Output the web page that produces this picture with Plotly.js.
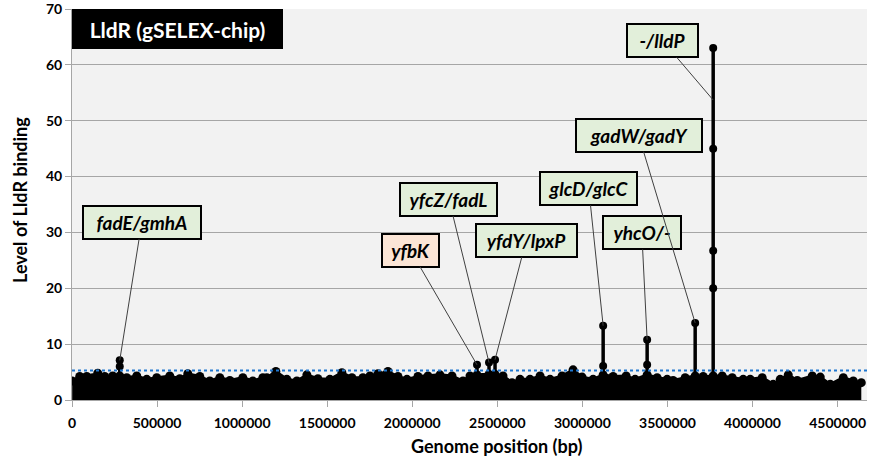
<!DOCTYPE html>
<html>
<head>
<meta charset="utf-8">
<script src="https://cdn.plot.ly/plotly-3.0.1.min.js"></script>
<style>html,body{margin:0;padding:0;background:#fff;}#chart{width:869px;height:472px;}</style>
</head>
<body>
<div id="chart"></div>
<script>
// Background binding profile (upper envelope)
const bgPos = [1000,45300,86500,121800,151200,192400,239400,280600,321800,380600,439400,498200,574700,633500,680600,751200,810000,868800,927600,1004100,1062900,1121800,1145300,1198200,1262900,1321700,1380600,1445300,1515900,1586500,1645300,1710000,1751200,1798200,1857000,1915900,1968800,2033500,2092300,2162900,2233500,2298200,2339400,2380600,2451200,2486500,2533500,2586500,2633500,2692300,2751200,2810000,2880600,2945300,2998200,3063000,3122000,3180600,3257100,3310000,3380600,3439400,3498200,3533500,3604100,3662900,3710000,3768800,3821800,3880600,3945300,3986500,4057100,4121800,4162900,4210000,4262900,4351200,4398200,4457100,4533500,4592300,4639400];
const bgVal = [3.4,4.2,4.2,4.0,4.8,4.2,4.3,4.3,4.0,4.3,3.7,4.0,4.3,3.8,4.7,4.2,3.4,4.0,3.5,4.0,3.4,4.0,4.0,5.1,3.7,3.4,4.5,3.8,3.7,4.9,4.0,4.0,4.3,4.7,5.1,4.2,3.7,4.2,4.3,4.5,4.3,3.4,4.3,4.5,4.6,4.6,4.3,3.1,3.7,3.7,4.3,3.7,4.3,5.4,4.1,3.7,4.5,4.2,4.3,3.7,4.5,4.0,3.7,3.5,4.0,4.3,4.2,4.3,4.3,4.0,3.7,3.7,4.0,2.8,3.7,4.5,3.5,4.3,4.1,2.8,4.0,3.4,3.1];

// Peaks: genome position and the measured levels at that position
const peakNames = ['fadE/gmhA','yfbK','yfcZ/fadL','yfdY/lpxP','glcD/glcC','yhcO/-','gadW/gadY','-/lldP'];
const peakPos = [280600,2380600,2451200,2486500,3122000,3380600,3662900,3768800];
const peakLevels = [[6.0,7.1],[6.3],[6.7],[7.2],[6.1,13.3],[6.3,10.8],[13.8],[20.0,26.7,45.0,63.0]];
const peakPointer = [7.1,6.3,6.7,7.2,13.3,10.8,13.8,53.7];
const threshold = 5.3;

// Label box placement (x in bp, y in binding level) and box size
const labelX = [410000,1989400,2215900,2668800,3037600,3349400,3330600,3471800];
const labelY = [31.8,26.8,35.9,28.5,37.8,29.9,47.4,64.3];
const labelW = [116,55,95,99,95,76,124,69];
const labelFill = ['#e2efda','#fbe5d6','#e2efda','#e2efda','#e2efda','#e2efda','#e2efda','#e2efda'];

const xTicks = [0,500000,1000000,1500000,2000000,2500000,3000000,3500000,4000000,4500000];
const yTicks = [0,10,20,30,40,50,60,70];

const FONT = 'Lato, "Open Sans", sans-serif';

// stems for peaks
const stemX = [], stemY = [];
peakPos.forEach((p,i)=>{
  stemX.push(p); stemY.push(1);
  peakLevels[i].forEach(v=>{stemX.push(p); stemY.push(v);});
  stemX.push(null); stemY.push(null);
});

const traces = [
  {x:bgPos, y:bgVal, type:'scatter', mode:'lines+markers', fill:'tozeroy', fillcolor:'#000',
   line:{color:'#000', width:3}, marker:{color:'#000', size:9}, hoverinfo:'skip', showlegend:false},
  {x:stemX, y:stemY, type:'scatter', mode:'lines+markers', connectgaps:false,
   line:{color:'#000', width:3.5}, marker:{color:'#000', size:8}, hoverinfo:'skip', showlegend:false}
];

const annotations = peakNames.map((n,i)=>({
  x:peakPos[i], y:peakPointer[i], xref:'x', yref:'y',
  ax:labelX[i], ay:labelY[i], axref:'x', ayref:'y',
  text:n, showarrow:true, arrowhead:0, arrowwidth:1, arrowcolor:'#404040', standoff:0,
  font:{family:FONT, size:19, color:'#000', weight:'bold', style:'italic'},
  bgcolor:labelFill[i], bordercolor:'#000', borderwidth:2, borderpad:0,
  width:labelW[i], height:31, align:'center', valign:'middle'
}));

annotations.push({
  xref:'paper', yref:'paper', x:0, y:1, xanchor:'left', yanchor:'top',
  text:'LldR (gSELEX-chip)', showarrow:false, bgcolor:'#000',
  font:{family:FONT, size:21, color:'#fff', weight:'bold'},
  width:211, height:40, borderpad:0, borderwidth:0, align:'center', valign:'middle'
});
annotations.push({
  xref:'paper', yref:'paper', x:(496-72)/795, y:-(446-400)/391, xanchor:'center', yanchor:'middle',
  text:'Genome position (bp)', showarrow:false,
  font:{family:FONT, size:18, color:'#000', weight:'bold'}
});
annotations.push({
  xref:'paper', yref:'paper', x:-(72-20)/795, y:(400-200)/391, xanchor:'center', yanchor:'middle',
  text:'Level of LldR binding', textangle:-90, showarrow:false,
  font:{family:FONT, size:18, color:'#000', weight:'bold'}
});

const layout = {
  width:869, height:472,
  margin:{l:72, r:2, t:9, b:72},
  paper_bgcolor:'#ffffff', plot_bgcolor:'#f2f2f2',
  showlegend:false,
  xaxis:{range:[0,4672900], tickvals:xTicks, ticktext:xTicks.map(String),
    showgrid:false, zeroline:false, showline:true, linecolor:'#a6a6a6', linewidth:1,
    ticks:'outside', ticklen:6, tickcolor:'#a6a6a6', tickwidth:1, ticklabelstandoff:4,
    ticklabeloverflow:'allow',
    tickfont:{family:FONT, size:14, color:'#000', weight:'bold'}, fixedrange:true},
  yaxis:{range:[0,70.001], tickvals:yTicks, ticktext:yTicks.map(String),
    showgrid:true, gridcolor:'#a6a6a6', gridwidth:1, zeroline:false,
    showline:true, linecolor:'#a6a6a6', linewidth:1,
    ticks:'outside', ticklen:6, tickcolor:'#a6a6a6', tickwidth:1,
    ticklabeloverflow:'allow',
    tickfont:{family:FONT, size:14, color:'#000', weight:'bold'}, fixedrange:true},
  shapes:[{type:'line', xref:'paper', x0:0, x1:1, yref:'y', y0:threshold, y1:threshold,
    line:{color:'#1f77d0', width:2, dash:'dot'}, layer:'above'}],
  annotations:annotations
};

Plotly.newPlot('chart', traces, layout, {displayModeBar:false, staticPlot:true});
</script>
</body>
</html>
